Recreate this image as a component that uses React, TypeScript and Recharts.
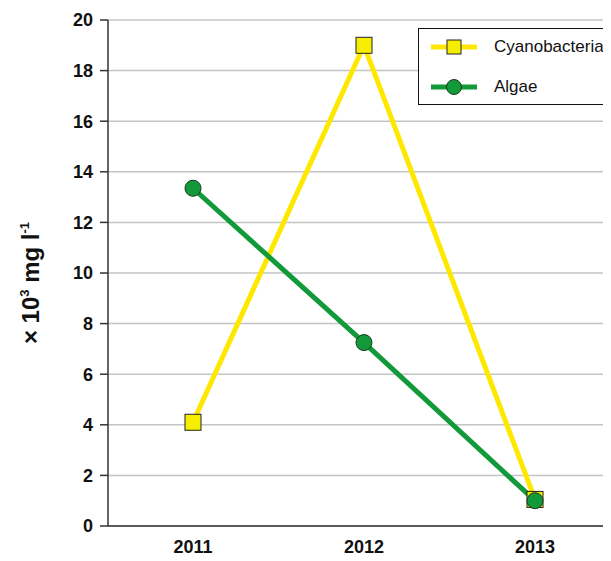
import React from "react";
import { LineChart, Line, XAxis, YAxis, CartesianGrid } from "recharts";

const years = ["2011", "2012", "2013"];
const cyanobacteria = [4.1, 19.0, 1.05];
const algae = [13.35, 7.25, 1.0];
const yTicks = [0, 2, 4, 6, 8, 10, 12, 14, 16, 18, 20];

const data = years.map((year, i) => ({
  year,
  cyanobacteria: cyanobacteria[i],
  algae: algae[i],
}));

const YELLOW = "#ffe800";
const YELLOW_FILL = "#f5ee00";
const GREEN = "#129a3a";
const FONT = "'Liberation Sans', Arial, sans-serif";

const SquareDot = (props: any) => {
  const { cx, cy, index } = props;
  return (
    <rect
      key={`sq-${index}`}
      x={cx - 8}
      y={cy - 8}
      width={16}
      height={16}
      fill={YELLOW_FILL}
      stroke="#222"
      strokeWidth={1}
    />
  );
};

const RoundDot = (props: any) => {
  const { cx, cy, index } = props;
  return (
    <circle
      key={`ci-${index}`}
      cx={cx}
      cy={cy}
      r={8}
      fill={GREEN}
      stroke="#1a3a1a"
      strokeWidth={1}
    />
  );
};

const YLabel = () => (
  <text
    transform="translate(39, 283) rotate(-90)"
    textAnchor="middle"
    fontFamily={FONT}
    fontWeight="bold"
    fontSize={24}
    fill="#111"
  >
    × 10<tspan dy={-10} fontSize={13}>3</tspan>
    <tspan dy={10}> mg l</tspan>
    <tspan dy={-10} fontSize={13}>-1</tspan>
  </text>
);

const LegendBox = () => (
  <div
    style={{
      position: "absolute",
      left: 418,
      top: 28,
      width: 210,
      height: 75,
      border: "1px solid #111",
      background: "#fff",
      fontFamily: FONT,
      fontSize: 17,
      color: "#111",
    }}
  >
    <svg width={60} height={75} style={{ position: "absolute", left: 0, top: 0 }}>
      <line x1={12} x2={58} y1={18} y2={18} stroke={YELLOW} strokeWidth={5} />
      <rect x={28} y={11} width={14} height={14} fill={YELLOW_FILL} stroke="#222" />
      <line x1={12} x2={58} y1={58} y2={58} stroke={GREEN} strokeWidth={5} />
      <circle cx={35} cy={58} r={7.5} fill={GREEN} stroke="#1a3a1a" />
    </svg>
    <div style={{ position: "absolute", left: 75, top: 8 }}>Cyanobacteria</div>
    <div style={{ position: "absolute", left: 75, top: 48 }}>Algae</div>
  </div>
);

export default function App() {
  return (
    <div
      style={{
        position: "relative",
        margin: -8,
        width: 611,
        height: 561,
        overflow: "hidden",
        background: "#fff",
      }}
    >
      <LineChart
        width={621}
        height={561}
        data={data}
        margin={{ top: 20, right: 0, bottom: 0, left: 0 }}
      >
        <CartesianGrid vertical={false} stroke="#c4c4c4" strokeWidth={1.5} />
        <XAxis
          dataKey="year"
          height={35}
          padding={{ left: 85, right: 86 }}
          tickSize={0}
          tickMargin={14}
          axisLine={{ stroke: "#333", strokeWidth: 1.5 }}
          tick={{ fontFamily: FONT, fontWeight: "bold", fontSize: 18, fill: "#111" }}
        />
        <YAxis
          width={108}
          domain={[0, 20]}
          ticks={yTicks}
          interval={0}
          tickSize={8}
          tickMargin={7}
          axisLine={{ stroke: "#333", strokeWidth: 1.5 }}
          tickLine={{ stroke: "#333", strokeWidth: 1.5 }}
          tick={{ fontFamily: FONT, fontWeight: "bold", fontSize: 18, fill: "#111" }}
          label={<YLabel />}
        />
        <Line
          dataKey="cyanobacteria"
          stroke={YELLOW}
          strokeWidth={5}
          dot={SquareDot}
          isAnimationActive={false}
        />
        <Line
          dataKey="algae"
          stroke={GREEN}
          strokeWidth={5}
          dot={RoundDot}
          isAnimationActive={false}
        />
      </LineChart>
      <LegendBox />
    </div>
  );
}
